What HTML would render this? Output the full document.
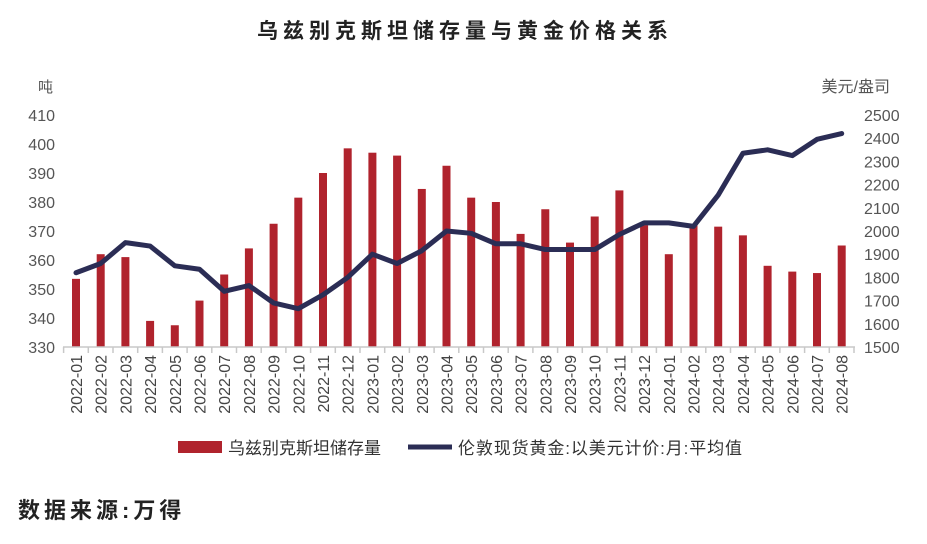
<!DOCTYPE html>
<html><head><meta charset="utf-8"><style>
body{margin:0;background:#fff;width:927px;height:539px;overflow:hidden}
text{font-family:"Liberation Sans","Noto Sans CJK SC",sans-serif}
</style></head><body>
<svg width="927" height="539" viewBox="0 0 927 539" xmlns="http://www.w3.org/2000/svg">
<text x="465" y="38" text-anchor="middle" font-size="21" font-weight="bold" fill="#222" letter-spacing="5">乌兹别克斯坦储存量与黄金价格关系</text>
<text x="38" y="92" font-size="15" fill="#555">吨</text>
<text x="890" y="92" text-anchor="end" font-size="16" fill="#555">美元/盎司</text>
<g id="g"></g>
<text x="18" y="518" font-size="22" font-weight="bold" fill="#222" letter-spacing="4">数据来源:万得</text>
</svg>
<script>
const bars=[353.5,362,361,339,337.5,346,355,364,372.5,381.5,390,398.5,397,396,384.5,392.5,381.5,380,369,377.5,366,375,384,372,362,372,371.5,368.5,358,356,355.5,365];
const gold=[1820,1860,1950,1935,1850,1835,1740,1765,1690,1665,1725,1800,1900,1860,1915,2000,1990,1945,1945,1920,1920,1920,1985,2035,2035,2020,2155,2335,2350,2325,2395,2420];
const y0=347,yT=115;
const yl=v=>y0-(v-330)/80*(y0-yT), yr=v=>y0-(v-1500)/1000*(y0-yT);
const x=i=>76+i*24.7;
let s='';
for(let v=330;v<=410;v+=10)s+=`<text x="55" y="${yl(v)+6}" text-anchor="end" font-size="16" fill="#555">${v}</text>`;
for(let v=1500;v<=2500;v+=100)s+=`<text x="864" y="${yr(v)+6}" font-size="16" fill="#555">${v}</text>`;
bars.forEach((b,i)=>{s+=`<rect x="${x(i)-4}" y="${yl(b)}" width="8" height="${y0-yl(b)}" fill="#b0232d"/>`});
s+=`<line x1="63" y1="${y0}" x2="855" y2="${y0}" stroke="#c8c8c8" stroke-width="1.5"/>`;
for(let i=0;i<=32;i++){const xx=63.6+i*24.7;s+=`<line x1="${xx}" y1="${y0}" x2="${xx}" y2="${y0+6}" stroke="#c8c8c8" stroke-width="1.5"/>`}
const mk=['2022-01','2022-02','2022-03','2022-04','2022-05','2022-06','2022-07','2022-08','2022-09','2022-10','2022-11','2022-12','2023-01','2023-02','2023-03','2023-04','2023-05','2023-06','2023-07','2023-08','2023-09','2023-10','2023-11','2023-12','2024-01','2024-02','2024-03','2024-04','2024-05','2024-06','2024-07','2024-08'];
mk.forEach((m,i)=>{s+=`<text transform="translate(${x(i)+6},${y0+8}) rotate(-90)" text-anchor="end" font-size="16" fill="#444">${m}</text>`});
s+=`<polyline fill="none" stroke="#2b2d55" stroke-width="5" stroke-linejoin="round" stroke-linecap="round" points="${gold.map((g,i)=>x(i)+','+yr(g)).join(' ')}"/>`;
s+=`<rect x="178" y="441" width="44" height="12" fill="#b0232d"/><text x="228" y="454" font-size="17" fill="#333">乌兹别克斯坦储存量</text>`;
s+=`<line x1="408" y1="447" x2="452" y2="447" stroke="#2b2d55" stroke-width="5"/><text x="458" y="454" font-size="17" fill="#333" textLength="284">伦敦现货黄金:以美元计价:月:平均值</text>`;
document.getElementById('g').innerHTML=s;
</script>
</body></html>
